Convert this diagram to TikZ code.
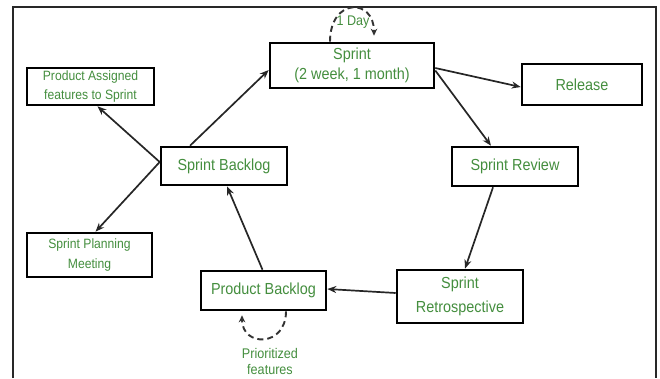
\documentclass[tikz,border=0pt]{standalone}
\usepackage{fontspec}
\setmainfont{Liberation Sans}[FakeStretch=0.9]
\usetikzlibrary{arrows.meta,calc}
\definecolor{lbl}{RGB}{68,142,62}
\definecolor{frm}{RGB}{40,40,40}
\begin{document}
\begin{tikzpicture}[x=1pt,y=-1pt,
  box/.style={draw=black,line width=2.6pt,fill=white,inner sep=0pt,align=center,
    text=lbl,font=\fontsize{16}{20}\selectfont},
  smallbox/.style={box,font=\fontsize{13.5}{19}\selectfont},
  flow/.style={line width=1.7pt,draw=black!85,-{Stealth[length=9pt,width=7pt]}},
  cycle/.style={line width=1.9pt,dash pattern=on 6pt off 4pt,draw=black!80,
    -{Stealth[length=7pt,width=6.5pt]}},
  note/.style={text=lbl,inner sep=0pt,align=center}]
\useasboundingbox (0,0) rectangle (660,378);

% open frame
\draw[frm,line width=1.3pt] (13,378) -- (13,7) -- (656,7) -- (656,378);

% stages
\node[box,minimum width=164pt,minimum height=45pt] (sprint) at (352,65.5) {Sprint\\(2 week, 1 month)};
\node[box,minimum width=120pt,minimum height=41pt] (release) at (582,84.5) {Release};
\node[smallbox,minimum width=127pt,minimum height=37pt] (pas) at (90.5,86.5) {Product Assigned\\features to Sprint};
\node[box,minimum width=126pt,minimum height=38pt] (sbl) at (224,166) {Sprint Backlog};
\node[box,minimum width=126pt,minimum height=39pt] (srev) at (515,166.5) {Sprint Review};
\node[smallbox,font=\fontsize{13.5}{20}\selectfont,minimum width=125pt,minimum height=44pt] (plan) at (89.5,255) {Sprint Planning\\Meeting};
\node[box,minimum width=125pt,minimum height=39pt] (pbl) at (263.5,290.5) {Product Backlog};
\node[box,font=\fontsize{16}{24}\selectfont,minimum width=126pt,minimum height=53pt] (retro) at (460,296.5) {Sprint\\Retrospective};

% flow between stages
\coordinate (fork) at ([yshift=4pt]sbl.west);
\draw[flow] (fork) -- ([xshift=7pt]pas.south);
\draw[flow] (fork) -- ([xshift=6pt]plan.north);
\draw[flow] ([xshift=-34pt]sbl.north) -- ([yshift=-4.5pt]sprint.west);
\draw[flow] ([yshift=-2.5pt]sprint.east) -- ([yshift=-2.5pt]release.west);
\draw[flow] ([yshift=-5pt]sprint.east) -- ([xshift=-24pt]srev.north);
\draw[flow] ([xshift=-22pt]srev.south) -- ([xshift=5pt]retro.north);
\draw[flow] ([yshift=3.5pt]retro.west) -- ([yshift=1.5pt]pbl.east);
\draw[flow] ([xshift=-1pt]pbl.north) -- ([xshift=3pt]sbl.south);

% daily loop over the sprint
\draw[cycle] ([xshift=-22pt]sprint.north) .. controls +(0,-44) and +(0,-38) .. ([xshift=22pt,yshift=6pt]sprint.north);
\node[note,font=\fontsize{14}{16}\selectfont] (day) at (353,22) {1 Day};

% prioritising loop under the product backlog
\draw[cycle] ([xshift=22.5pt]pbl.south) .. controls +(0,36) and +(0,32) .. ([xshift=-21.5pt,yshift=-4pt]pbl.south);
\node[note,font=\fontsize{14}{16}\selectfont] (prio) at (270,361) {Prioritized\\features};
\end{tikzpicture}
\end{document}
